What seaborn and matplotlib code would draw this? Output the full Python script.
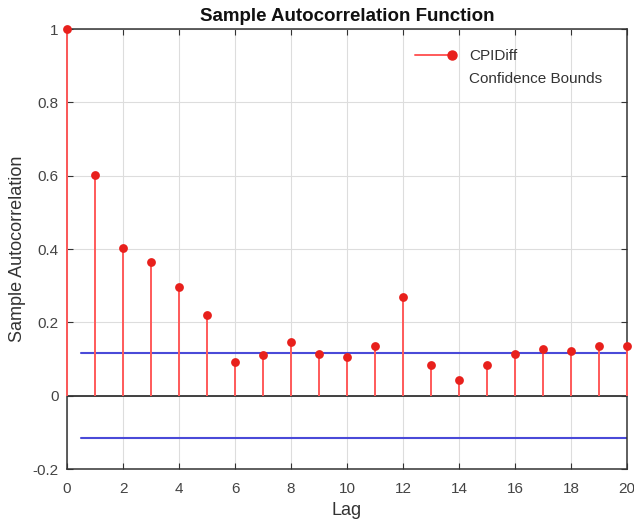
import matplotlib
matplotlib.use("Agg")
import matplotlib.pyplot as plt
import seaborn as sns
import numpy as np
import pandas as pd
from matplotlib.lines import Line2D
from matplotlib.legend_handler import HandlerLine2D

lags = list(range(0, 21))
acf = [1.0, 0.602, 0.403, 0.364, 0.297, 0.220, 0.091, 0.111, 0.147, 0.115, 0.105,
       0.136, 0.270, 0.084, 0.043, 0.084, 0.115, 0.127, 0.121, 0.136, 0.136]
bound_upper = 0.117
bound_lower = -0.116
bound_x = [0.5, 20]

sns.set_theme(style="white")
plt.rcParams['font.family'] = ['Liberation Sans', 'DejaVu Sans']

fig = plt.figure(figsize=(6.34, 5.28), dpi=100)
ax = fig.add_axes([0.1057, 0.1117, 0.8833, 0.8333])

df = pd.DataFrame({"Lag": lags, "ACF": acf})
red = "#e8201c"
ax.vlines(df["Lag"], 0, df["ACF"], color="#ff5a5a", lw=1.4, zorder=3, clip_on=False)
sns.scatterplot(data=df, x="Lag", y="ACF", ax=ax, color=red, s=40,
                edgecolor=red, linewidth=0, zorder=4, legend=False, clip_on=False)

bdf = pd.DataFrame({"x": bound_x * 2,
                    "y": [bound_upper] * 2 + [bound_lower] * 2,
                    "g": ["u", "u", "l", "l"]})
sns.lineplot(data=bdf, x="x", y="y", units="g", estimator=None, ax=ax,
             color="#4a4ad8", lw=1.5, zorder=2, legend=False)
ax.axhline(0, color="#333333", lw=1.3, zorder=2.5)

ax.set_xlim(0, 20)
ax.set_ylim(-0.2, 1.0)
ax.set_xticks(range(0, 21, 2))
ax.set_yticks([-0.2, 0, 0.2, 0.4, 0.6, 0.8, 1.0])
ax.set_yticklabels(["-0.2", "0", "0.2", "0.4", "0.6", "0.8", "1"])
ax.grid(True, color="#dddddd", lw=0.8)
ax.set_axisbelow(True)
for sp in ax.spines.values():
    sp.set_color("#333333")
    sp.set_linewidth(1.1)
ax.tick_params(axis="both", which="both", direction="in", length=4, width=0.8,
               colors="#333333", labelcolor="#444444", labelsize=11,
               top=True, right=True, bottom=True, left=True)
ax.tick_params(axis="x", pad=9)
ax.tick_params(axis="y", pad=6)
ax.set_xlabel("Lag", fontsize=13, color="#333333", labelpad=5)
ax.set_ylabel("Sample Autocorrelation", fontsize=13, color="#333333", labelpad=5)
ax.set_title("Sample Autocorrelation Function", fontsize=13.5, fontweight="bold",
             color="#111111", pad=6)


class EndMarkerHandler(HandlerLine2D):
    def create_artists(self, legend, orig_handle, xdescent, ydescent, width,
                       height, fontsize, trans):
        arts = super().create_artists(legend, orig_handle, xdescent, ydescent,
                                      width, height, fontsize, trans)
        for a in arts:
            if isinstance(a, Line2D):
                a.set_markevery([len(a.get_xdata()) - 1])
        return arts


stem_handle = Line2D([0], [0], color="#ff5a5a", lw=1.4, marker="o", markersize=6.5,
                     markerfacecolor=red, markeredgecolor=red)
bound_handle = Line2D([0], [0], color="none", lw=0)
leg = ax.legend([stem_handle, bound_handle], ["CPIDiff", "Confidence Bounds"],
                loc="upper right", frameon=False, fontsize=11,
                bbox_to_anchor=(0.98, 0.985), handlelength=2.4,
                handletextpad=1.1, labelspacing=0.55, labelcolor="#333333",
                handler_map={stem_handle: EndMarkerHandler()})

fig.savefig("out.png", dpi=100)
